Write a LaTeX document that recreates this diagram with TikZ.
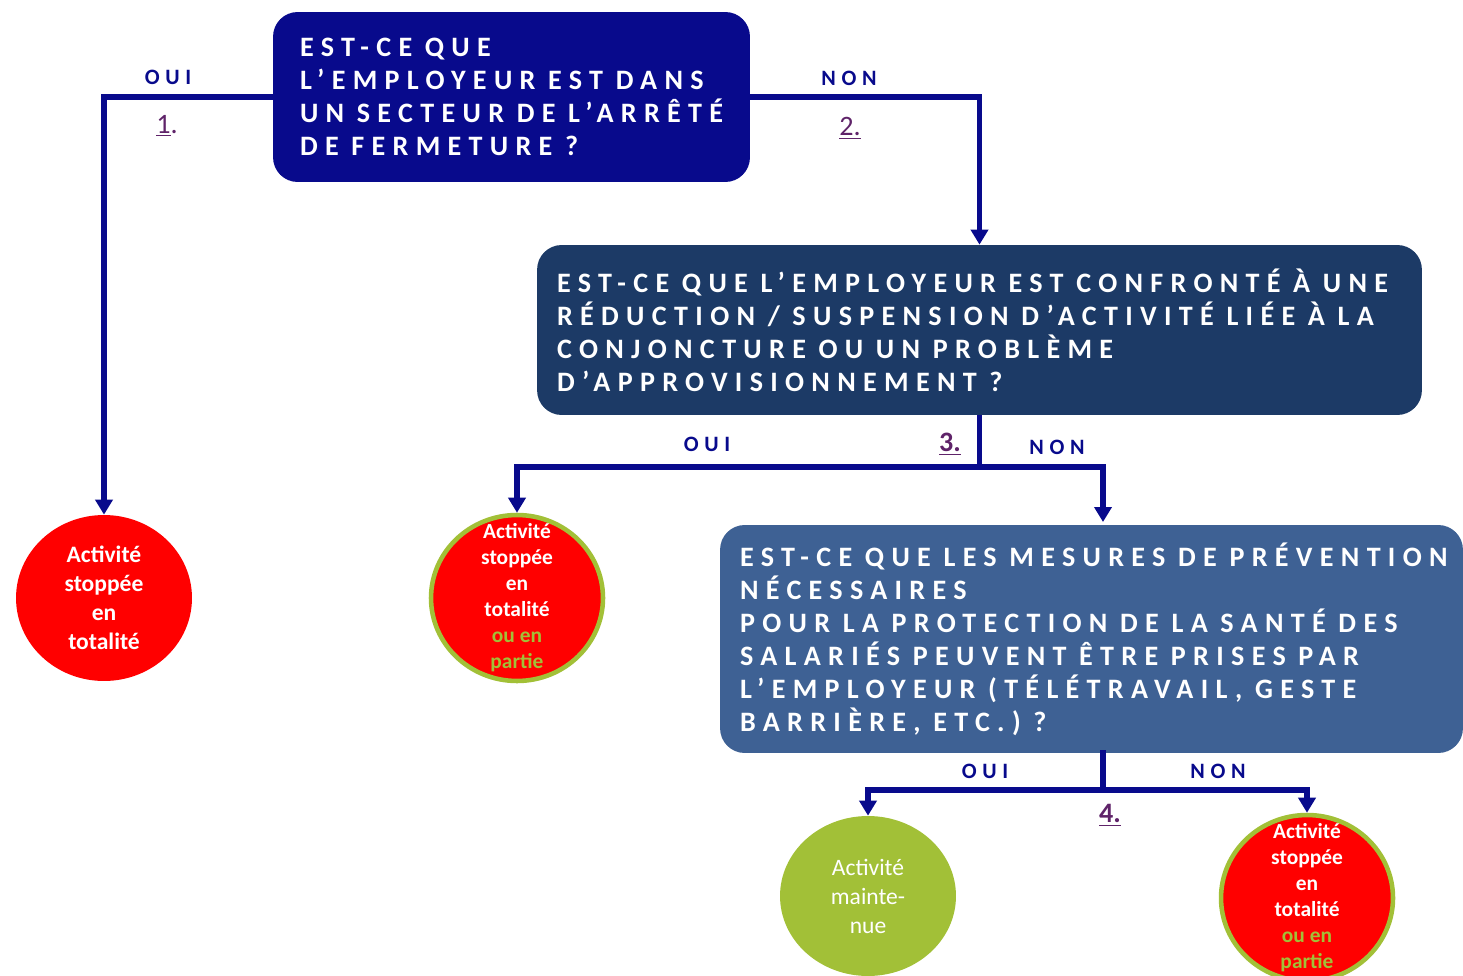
\documentclass[tikz,border=0pt]{standalone}
\usepackage{fontspec}
\setmainfont{Carlito}
\newfontfamily\spacedfont[LetterSpace=26]{Carlito}
\usetikzlibrary{arrows.meta,shapes.geometric}
\definecolor{navy}{RGB}{8,10,140}
\definecolor{slate}{RGB}{28,58,102}
\definecolor{steel}{RGB}{62,97,148}
\definecolor{stopred}{RGB}{255,0,0}
\definecolor{olive}{RGB}{162,192,55}
\definecolor{numpurple}{RGB}{95,35,105}
\newcommand\questionfont{\spacedfont\bfseries\fontsize{16}{18.8}\selectfont\hyphenpenalty=10000\exhyphenpenalty=10000\relax}
% word gap for the letter-spaced capitals
\newcommand\gap{\nobreak\hspace{0.45em}\nobreak}
\tikzset{
    question/.style={rounded corners=14pt, text=white, align=left, inner xsep=0.4cm, minimum height=3.4cm, font=\questionfont},
    stopnode/.style={ellipse, fill=stopred, inner sep=0pt, minimum width=3.52cm, minimum height=3.32cm},
    partnode/.style={ellipse, fill=stopred, draw=olive, line width=2.6pt, inner sep=0pt, minimum width=3.44cm, minimum height=3.32cm},
    keepnode/.style={ellipse, fill=olive, inner sep=0pt, minimum width=3.52cm, minimum height=3.2cm},
    circtext/.style={text=white, align=center, font=\bfseries\fontsize{13.4}{16.5}\selectfont},
    smalltext/.style={text=white, align=center, font=\bfseries\fontsize{12.2}{14.8}\selectfont},
    answer/.style={text=navy, font=\spacedfont\bfseries\fontsize{12.5}{14}\selectfont},
    num/.style={text=numpurple, font=\fontsize{16}{18}\selectfont},
    line/.style={draw=navy, line width=3.1pt},
    flow/.style={line, -{Triangle[width=0.34cm,length=0.3cm]}}
}
\begin{document}
\begin{tikzpicture}[x=0.02cm,y=-0.02cm]
\useasboundingbox (0,0) rectangle (1463,976);
\clip (0,0) rectangle (1463,976);
% questions
\node[question, fill=navy, minimum width=9.54cm, text width=8.46cm, inner xsep=0.54cm] (q1) at (511.5,97)
    {EST-CE\gap QUE\\L’EMPLOYEUR\gap EST\gap DANS\\UN\gap SECTEUR\gap DE\gap L’ARRÊTÉ\\DE\gap FERMETURE\gap ?};
\node[question, fill=slate, minimum width=17.7cm, text width=16.9cm] (q2) at (979.5,330)
    {EST-CE\gap QUE\gap L’EMPLOYEUR\gap EST\gap CONFRONTÉ\gap À\gap UNE\\RÉDUCTION\gap /\gap SUSPENSION\gap D’ACTIVITÉ\gap LIÉE\gap À\gap LA\\CONJONCTURE\gap OU\gap UN\gap PROBLÈME\\D’APPROVISIONNEMENT\gap ?};
\node[question, fill=steel, minimum width=14.86cm, text width=14.06cm, minimum height=4.56cm] (q3) at (1091.5,639)
    {EST-CE\gap QUE\gap LES\gap MESURES\gap DE\gap PRÉVENTION\\NÉCESSAIRES\\POUR\gap LA\gap PROTECTION\gap DE\gap LA\gap SANTÉ\gap DES\\SALARIÉS\gap PEUVENT\gap ÊTRE\gap PRISES\gap PAR\\L’EMPLOYEUR\gap (TÉLÉTRAVAIL,\gap GESTE\\BARRIÈRE,\gap ETC.)\gap ?};
% outcomes
\node[stopnode] (c1) at (104,598) {};
\node[circtext] (c1t) at (c1) {Activité\\stoppée\\en\\totalité};
\node[partnode] (c2) at (517,598) {};
\node[smalltext] (c2t) at (517,598) {Activité\\stoppée\\en\\totalité\\\textcolor{olive}{ou en}\\\textcolor{olive}{partie}};
\node[keepnode] (c3) at (868,896) {};
\node[text=white, align=center, font=\fontsize{13.4}{16.5}\selectfont] (c3t) at (c3) {Activité\\mainte-\\nue};
\node[partnode] (c4) at (1307,898) {};
\node[smalltext] (c4t) at (1307,898) {Activité\\stoppée\\en\\totalité\\\textcolor{olive}{ou en}\\\textcolor{olive}{partie}};
% connectors
\draw[flow] (q1.west) -| (c1.north);
\draw[flow] (q1.east) -| (q2.north);
\coordinate (j3) at (979.5,467);
\coordinate (q3in) at (1103,522);
\coordinate (q3out) at (1103,750);
\coordinate (j4) at (1103,790);
\draw[line] (q2.south) -- (j3);
\draw[flow] (j3) -| (c2.north);
\draw[flow] (j3) -| (q3in);
\draw[line] (q3out) -- (j4);
\draw[flow] (j4) -| (c3.north);
\draw[flow] (j4) -| (c4.north);
% labels
\node[answer] (oui1) at (168,77) {OUI};
\node[answer] (non1) at (849,78) {NON};
\node[answer] (oui2) at (707,444) {OUI};
\node[answer] (non2) at (1057,447) {NON};
\node[answer] (oui3) at (985,771) {OUI};
\node[answer] (non3) at (1218,771) {NON};
\node[num] (n1) at (167,126) {\underline{1}.};
\node[num] (n2) at (850,128) {\underline{2.}};
\node[num, font=\bfseries\fontsize{16}{18}\selectfont] (n3) at (950,444) {\underline{3.}};
\node[num, font=\bfseries\fontsize{16}{18}\selectfont] (n4) at (1110,815) {\underline{4.}};
\end{tikzpicture}
\end{document}
